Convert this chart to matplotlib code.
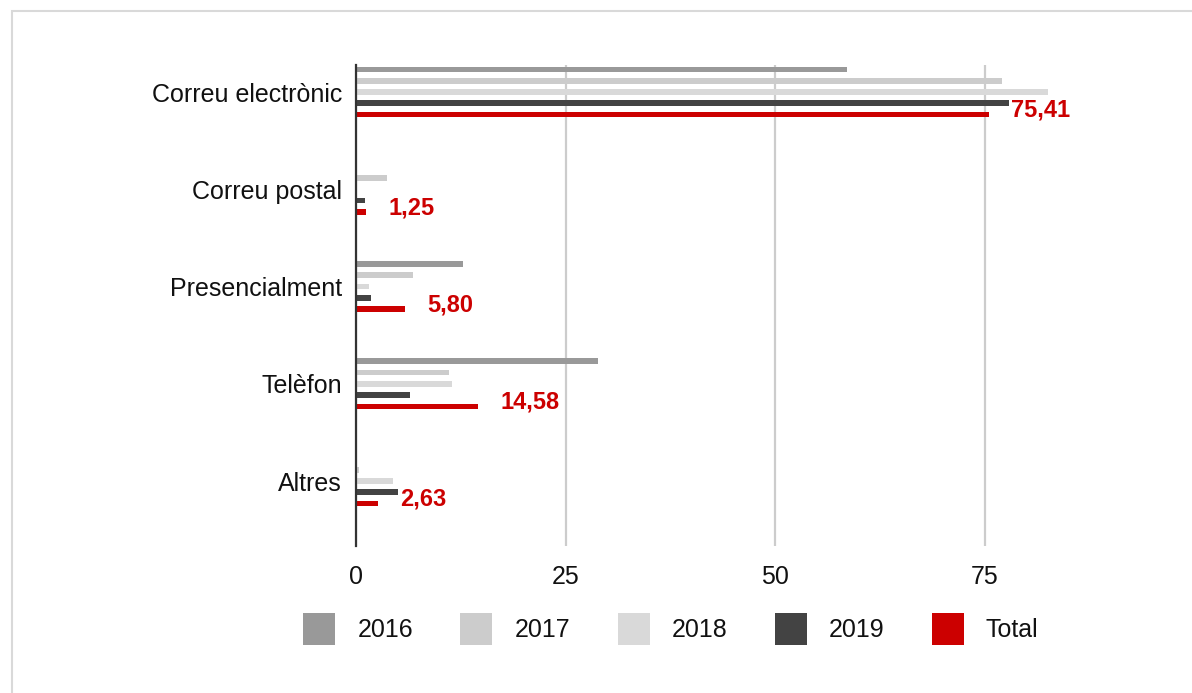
import matplotlib.pyplot as plt
import numpy as np
from matplotlib.patches import Rectangle

plt.rcParams['font.family'] = ['Liberation Sans', 'DejaVu Sans']

# data
categories = ['Correu electrònic', 'Correu postal', 'Presencialment', 'Telèfon', 'Altres']
series_names = ['2016', '2017', '2018', '2019', 'Total']
values_2016 = [58.5, 0.0, 12.8, 28.8, 0.0]
values_2017 = [77.0, 3.7, 6.8, 11.1, 0.4]
values_2018 = [82.5, 0.0, 1.5, 11.5, 4.4]
values_2019 = [78.4, 1.1, 1.8, 6.4, 5.0]
values_total = [75.41, 1.25, 5.80, 14.58, 2.63]
total_labels = ['75,41', '1,25', '5,80', '14,58', '2,63']

colors = ['#999999', '#cccccc', '#d9d9d9', '#434343', '#cc0000']
all_series = [values_2016, values_2017, values_2018, values_2019, values_total]

W, H = 1192, 693
fig = plt.figure(figsize=(W / 100, H / 100), dpi=100)

# light frame around the chart (runs off the right/bottom edge)
fig.patches.append(Rectangle((12 / W, -0.05), 1.2, 1 - 11 / H + 0.05,
                             transform=fig.transFigure, fill=False,
                             ec='#d9d9d9', lw=1.5))

ax = fig.add_axes([356 / W, (H - 546) / H, 713 / W, (546 - 65) / H])

y = np.arange(len(categories))
step = 0.116
bar_h = 0.058
for j, (vals, col, name) in enumerate(zip(all_series, colors, series_names)):
    ax.barh(y + (j - 2) * step, vals, height=bar_h, color=col, label=name, zorder=3)

for i, (v, lab) in enumerate(zip(values_total, total_labels)):
    ax.annotate(lab, (v, y[i] + 2 * step), xytext=(16, 3), textcoords='offset points',
                ha='left', va='center', color='#cc0000', fontsize=17, fontweight='bold',
                bbox=dict(fc='white', ec='none', pad=1.5), zorder=5)

ax.set_xlim(0, 85)
ax.set_ylim(4.668, -0.278)
ax.set_xticks([0, 25, 50, 75])
ax.set_yticks(y)
ax.set_yticklabels(categories)
ax.tick_params(axis='both', length=0, labelsize=18, colors='#111111')
ax.tick_params(axis='y', pad=10)
ax.tick_params(axis='x', pad=14)

ax.grid(axis='x', color='#cccccc', lw=1.6, zorder=0)
ax.set_axisbelow(True)
for s in ['top', 'right', 'bottom']:
    ax.spines[s].set_visible(False)
ax.spines['left'].set_color('#333333')
ax.spines['left'].set_linewidth(1.6)
ax.spines['left'].set_zorder(4)

handles = [Rectangle((0, 0), 1, 1, fc=c, ec='none') for c in colors]
fig.legend(handles, series_names, loc='center', bbox_to_anchor=(671 / W, 1 - 629 / H),
           ncol=5, frameon=False, fontsize=18, handlelength=1.28, handleheight=1.6,
           handletextpad=0.88, columnspacing=1.9, labelcolor='#111111')

fig.savefig('out.png', dpi=100)
